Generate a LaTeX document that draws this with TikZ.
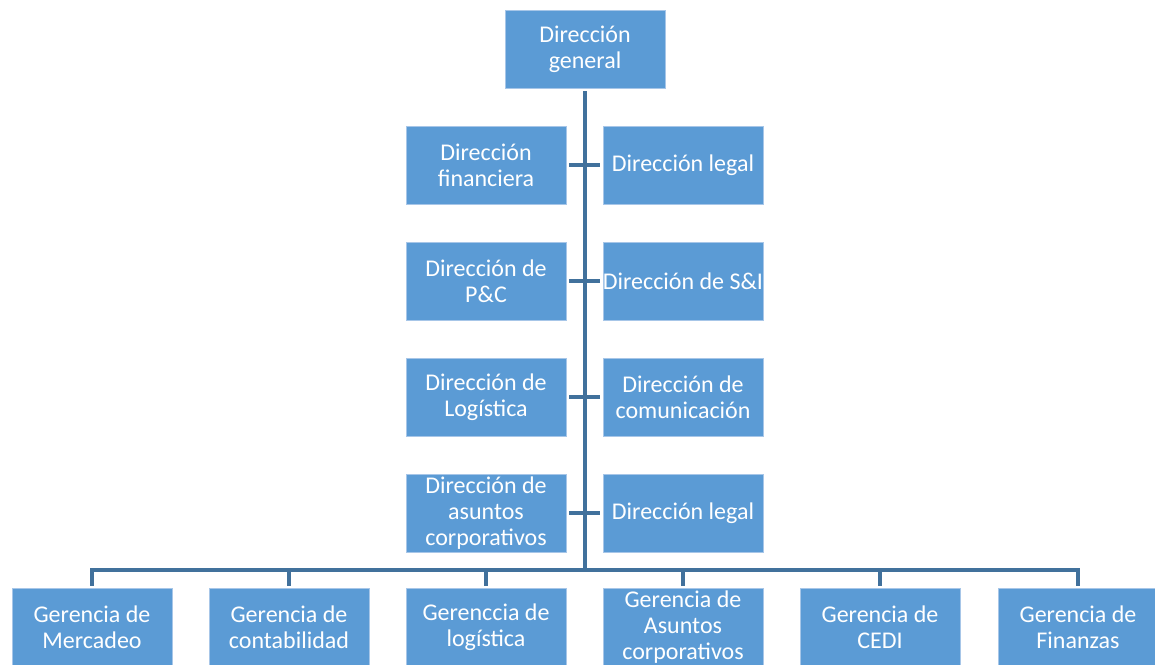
\documentclass[tikz,border=0pt]{standalone}
\usepackage{fontspec}
\setmainfont{Carlito}
\definecolor{boxblue}{HTML}{5B9BD5}
\definecolor{boxedge}{HTML}{A7C6E8}
\definecolor{linkblue}{HTML}{41719C}
\begin{document}
\begin{tikzpicture}[x=1pt,y=-1pt,
  orgbox/.style={rectangle, fill=boxblue, draw=boxedge, line width=0.8pt,
    minimum width=160pt, minimum height=78pt, inner sep=0pt,
    text=white, align=center, font=\fontsize{24}{26}\selectfont},
  conn/.style={draw=linkblue, line width=3.2pt}]
\useasboundingbox (0,0) rectangle (1155,664);
\clip (0,0) rectangle (1155,664);
\node[orgbox] (top) at (585,49) {Dirección\\general};
\node[orgbox] (l1) at (486,165) {Dirección\\financiera};
\node[orgbox] (r1) at (683,165) {Dirección legal};
\node[orgbox] (l2) at (486,281) {Dirección de\\P\&C};
\node[orgbox] (r2) at (683,281) {Dirección de S\&I};
\node[orgbox] (l3) at (486,397) {Dirección de\\Logística};
\node[orgbox] (r3) at (683,397) {Dirección de\\comunicación};
\node[orgbox] (l4) at (486,513) {Dirección de\\asuntos\\corporativos};
\node[orgbox] (r4) at (683,513) {Dirección legal};
\node[orgbox] (g1) at (92,627) {Gerencia de\\Mercadeo};
\node[orgbox] (g2) at (289,627) {Gerencia de\\contabilidad};
\node[orgbox] (g3) at (486,627) {Gerenccia de\\logística};
\node[orgbox] (g4) at (683,627) {Gerencia de\\Asuntos\\corporativos};
\node[orgbox] (g5) at (880,627) {Gerencia de\\CEDI};
\node[orgbox] (g6) at (1078,627) {Gerencia de\\Finanzas};
\coordinate (bus) at (585,570);
\draw[conn, shorten <=3pt] (top.south) -- (bus);
\foreach \i in {1,2,3,4}{
  \draw[conn, shorten <=3pt, shorten >=3pt] (l\i.east) -- (r\i.west);
}
\draw[conn, shorten <=2pt, shorten >=2pt] (g1.north) -- (g1.north |- bus) -- (g6.north |- bus) -- (g6.north);
\foreach \i in {2,3,4,5}{
  \draw[conn, shorten <=2pt] (g\i.north) -- (g\i.north |- bus);
}
\end{tikzpicture}
\end{document}
